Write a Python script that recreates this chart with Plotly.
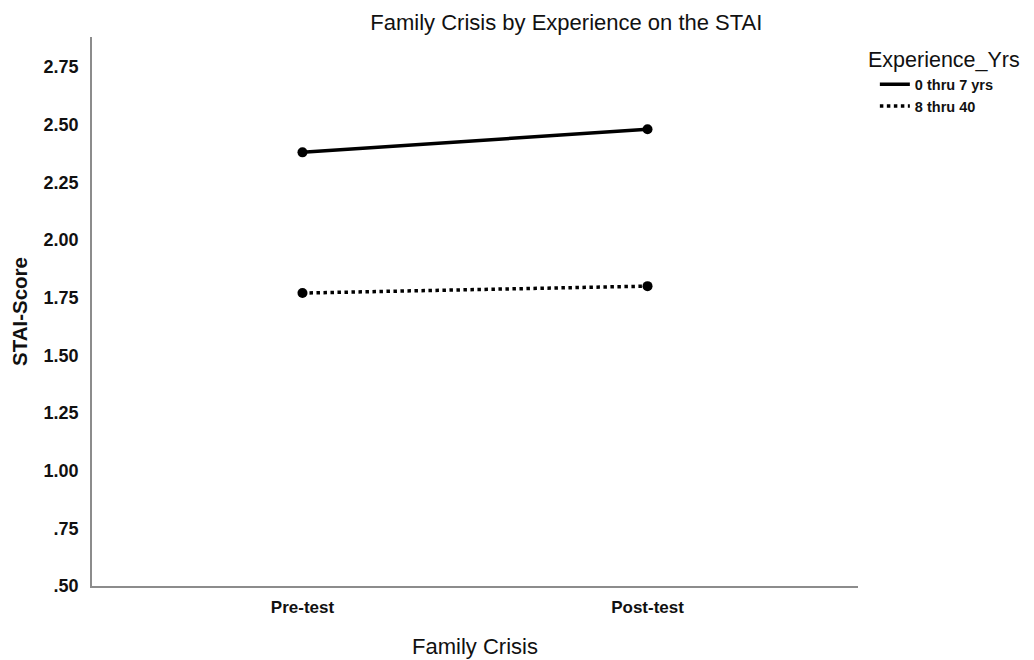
import plotly.graph_objects as go

categories = ["Pre-test", "Post-test"]
group_names = ["0 thru 7 yrs", "8 thru 40"]
values_0_7 = [2.38, 2.48]
values_8_40 = [1.77, 1.80]
y_ticks = [0.50, 0.75, 1.00, 1.25, 1.50, 1.75, 2.00, 2.25, 2.50, 2.75]
y_tick_labels = [".50", ".75", "1.00", "1.25", "1.50", "1.75", "2.00", "2.25", "2.50", "2.75"]
legend_title = "Experience_Yrs"

sans = "Liberation Sans, Arial, sans-serif"
dashes = ["solid", "dot"]

fig = go.Figure()
for name, vals, dash in zip(group_names, [values_0_7, values_8_40], dashes):
    # data trace (markers + line), legend handled by a line-only trace
    fig.add_trace(go.Scatter(
        x=categories, y=vals, name=name, mode="lines+markers", showlegend=False,
        line=dict(color="black", width=3.5, dash=dash),
        marker=dict(color="black", size=10),
    ))
for name, dash in zip(group_names, dashes):
    fig.add_trace(go.Scatter(
        x=[None], y=[None], name=name, mode="lines",
        line=dict(color="black", width=3.5, dash=dash),
    ))

fig.update_layout(
    width=1034, height=660,
    paper_bgcolor="white", plot_bgcolor="white",
    margin=dict(l=84, r=184, t=29, b=82, autoexpand=False),
    title=dict(text="Family Crisis by Experience on the STAI", x=0.54, xref="container",
               xanchor="center", y=0.978, yref="container", yanchor="middle",
               font=dict(family=sans, size=22, color="#111")),
    showlegend=True,
    legend=dict(
        x=1.022, xanchor="left", y=0.943, yanchor="top",
        font=dict(family=sans, size=14.5, color="#111", weight="bold"),
        bgcolor="rgba(0,0,0,0)", itemwidth=30, tracegroupgap=0,
    ),
    annotations=[dict(
        text=legend_title, x=1.0105, xref="paper", xanchor="left",
        y=0.958, yref="paper", yanchor="middle", showarrow=False,
        font=dict(family=sans, size=21.5, color="#111"),
    )],
    xaxis=dict(
        type="category", range=[-0.61, 1.61],
        showgrid=False, zeroline=False, showline=True, linecolor="#8c8c8c", linewidth=1.5,
        ticks="", ticklabelstandoff=5,
        tickfont=dict(family=sans, size=17, color="#111", weight="bold"),
        title=dict(text="Family Crisis", font=dict(family=sans, size=22, color="#111"), standoff=22),
    ),
    yaxis=dict(
        range=[0.5, 2.88], tickvals=y_ticks, ticktext=y_tick_labels,
        showgrid=False, zeroline=False, showline=True, linecolor="#8c8c8c", linewidth=1.5,
        ticks="", ticklabelstandoff=8,
        tickfont=dict(family=sans, size=18, color="#111", weight="bold"),
        title=dict(text="STAI-Score", font=dict(family=sans, size=20.5, color="#111", weight="bold"), standoff=18),
    ),
)

fig.write_html("out.html")
